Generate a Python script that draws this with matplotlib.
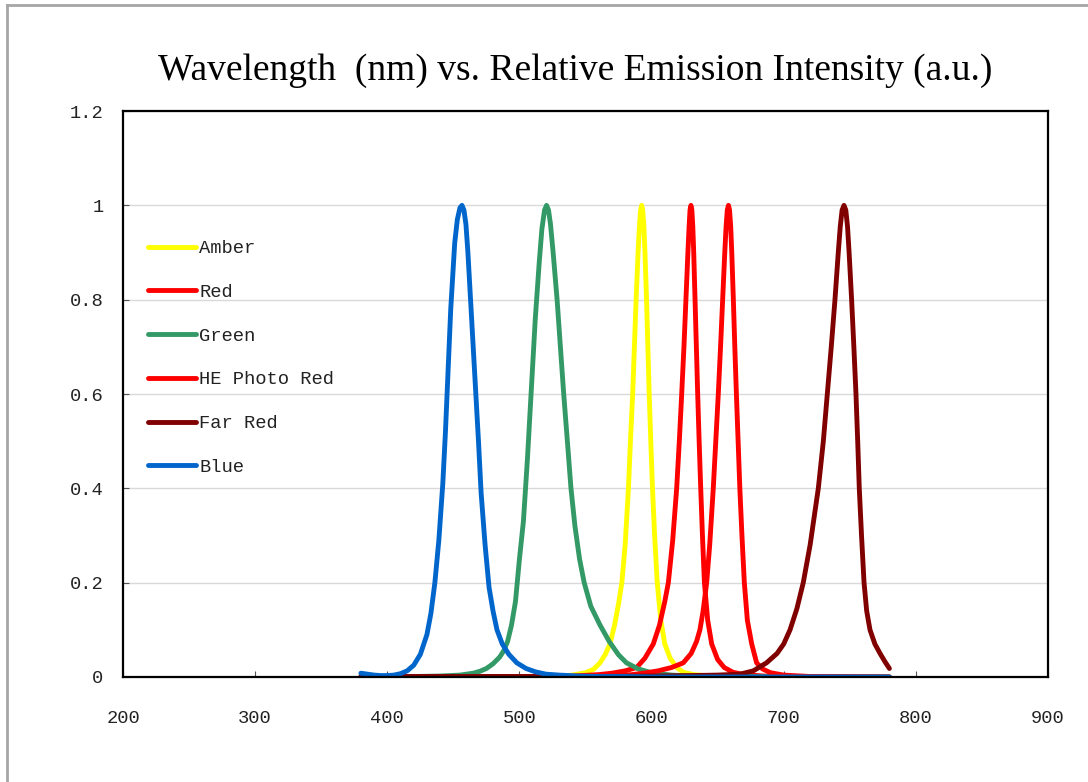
import matplotlib
matplotlib.use("Agg")
import matplotlib.pyplot as plt
from matplotlib.lines import Line2D

# ---------------------------------------------------
# Data (wavelength nm, relative intensity)
# ---------------------------------------------------

amber_wl = [380, 500, 530, 540, 550, 556, 561, 565, 568.5, 572, 575, 577.5, 580,
            582.5, 584, 585.7, 587, 588.3, 589.8, 590.8, 591.7, 592.5, 593.3, 594.2,
            595, 596.2, 597.2, 598.2, 599.4, 600.7, 602.3, 604.3, 607, 610, 614, 619,
            624, 632, 645, 660, 700, 780]
amber_val = [0, 0, 0.002, 0.004, 0.009, 0.016, 0.03, 0.048, 0.07, 0.11, 0.155, 0.2,
             0.28, 0.40, 0.50, 0.60, 0.70, 0.80, 0.90, 0.955, 0.99, 1.0, 0.99, 0.955,
             0.90, 0.80, 0.70, 0.60, 0.50, 0.40, 0.30, 0.20, 0.12, 0.07, 0.04, 0.02,
             0.01, 0.005, 0.002, 0.001, 0, 0]

red_wl = [380, 500, 540, 560, 570, 580, 588.7, 595, 601.3, 606, 610, 612.7, 616, 619,
          621, 622.8, 624.5, 626, 627.5, 628.4, 629.1, 629.8, 630.5, 631.2, 631.9,
          632.9, 633.9, 634.9, 636, 637.2, 638.5, 640, 642.5, 645.5, 650, 655, 661.6,
          670, 685, 700, 780]
red_val = [0, 0, 0.002, 0.005, 0.008, 0.013, 0.02, 0.04, 0.07, 0.11, 0.16, 0.20, 0.29,
           0.40, 0.50, 0.60, 0.70, 0.80, 0.90, 0.955, 0.99, 1.0, 0.99, 0.955, 0.90,
           0.80, 0.70, 0.60, 0.50, 0.40, 0.30, 0.20, 0.12, 0.07, 0.037, 0.02, 0.01,
           0.005, 0.002, 0.001, 0]

green_wl = [380, 420, 440, 455, 465, 470, 475, 480, 485, 488, 491, 494, 497, 500, 503,
            506, 509, 512, 515, 517, 519, 520.5, 522, 523.5, 525.5, 528.5, 531, 533.5,
            536, 539, 542, 545.5, 549, 554, 561, 568, 575, 581, 590, 600, 615, 630,
            660, 700, 780]
green_val = [0, 0.001, 0.002, 0.004, 0.008, 0.012, 0.018, 0.028, 0.042, 0.055, 0.075,
             0.11, 0.16, 0.25, 0.33, 0.46, 0.61, 0.76, 0.88, 0.95, 0.99, 1.0, 0.99,
             0.96, 0.90, 0.80, 0.70, 0.60, 0.51, 0.40, 0.32, 0.25, 0.20, 0.15, 0.11,
             0.075, 0.047, 0.03, 0.017, 0.009, 0.004, 0.002, 0.001, 0, 0]

he_red_wl = [380, 540, 570, 585, 594, 605, 615, 624, 630, 634, 636.6, 639, 641.7, 644,
             646.7, 648.6, 650.5, 652.2, 653.8, 655.4, 656.4, 657.3, 658.2, 659.0,
             659.9, 660.7, 661.9, 663, 664.2, 665.5, 666.8, 668.4, 670.2, 672.5, 675.8,
             679.5, 684, 690, 700, 720, 780]
he_red_val = [0, 0, 0.002, 0.005, 0.008, 0.013, 0.02, 0.03, 0.05, 0.075, 0.10, 0.14,
              0.20, 0.28, 0.40, 0.50, 0.60, 0.70, 0.80, 0.90, 0.955, 0.99, 1.0, 0.99,
              0.955, 0.90, 0.80, 0.70, 0.60, 0.50, 0.40, 0.30, 0.20, 0.12, 0.07, 0.03,
              0.017, 0.009, 0.004, 0.001, 0]

far_red_wl = [380, 400, 450, 500, 550, 600, 630, 650, 667, 677, 687, 695, 700, 704.8,
              710, 714.8, 720, 726.2, 730, 733, 736, 738.8, 741.3, 742.8, 744.2, 745.6,
              747, 748.3, 749.5, 751.4, 753.1, 754.7, 756, 757.2, 758.9, 760.8, 762.8,
              765.3, 769, 772.9, 776.5, 780]
far_red_val = [0.001, 0.001, 0.001, 0.001, 0.001, 0.002, 0.003, 0.004, 0.006, 0.013,
               0.03, 0.05, 0.07, 0.10, 0.145, 0.20, 0.28, 0.40, 0.50, 0.60, 0.70, 0.80,
               0.90, 0.955, 0.99, 1.0, 0.99, 0.955, 0.90, 0.80, 0.70, 0.60, 0.50, 0.40,
               0.30, 0.20, 0.14, 0.10, 0.07, 0.05, 0.033, 0.018]

blue_wl = [380, 385, 390, 395, 400, 405, 410, 415, 420, 425, 430, 433, 436, 439, 442,
           444, 446, 448, 451, 453, 455, 456.5, 458, 459.5, 461, 463, 465, 467, 469,
           471, 474, 477, 480, 483, 487, 492, 498, 505, 512, 520, 530, 545, 560, 580,
           600, 650, 700, 780]
blue_val = [0.008, 0.006, 0.004, 0.003, 0.003, 0.004, 0.007, 0.013, 0.025, 0.048, 0.09,
            0.135, 0.20, 0.29, 0.41, 0.52, 0.65, 0.78, 0.92, 0.97, 0.995, 1.0, 0.99,
            0.96, 0.90, 0.80, 0.70, 0.60, 0.50, 0.39, 0.28, 0.19, 0.14, 0.10, 0.07,
            0.048, 0.03, 0.018, 0.011, 0.006, 0.004, 0.002, 0.001, 0.001, 0, 0, 0, 0]

SERIES = [
    ("Amber", amber_wl, amber_val, "#FFFF00"),
    ("Red", red_wl, red_val, "#FF0000"),
    ("Green", green_wl, green_val, "#339966"),
    ("HE Photo Red", he_red_wl, he_red_val, "#FF0000"),
    ("Far Red", far_red_wl, far_red_val, "#800000"),
    ("Blue", blue_wl, blue_val, "#0066CC"),
]

X_TICKS = [200, 300, 400, 500, 600, 700, 800, 900]
Y_TICKS = [0, 0.2, 0.4, 0.6, 0.8, 1.0, 1.2]
Y_TICK_LABELS = ["0", "0.2", "0.4", "0.6", "0.8", "1", "1.2"]

TITLE = "Wavelength  (nm) vs. Relative Emission Intensity (a.u.)"
TICK_FONT = "Liberation Mono"


def main():
    fig = plt.figure(figsize=(10.88, 7.82), dpi=100)
    ax = fig.add_axes([0.1131, 0.1343, 0.8501, 0.7237])

    # gray frame, only top and left visible in the reference
    fig.add_artist(Line2D([0.0065, 1.0], [0.9936, 0.9936], transform=fig.transFigure,
                          color="#a6a6a6", linewidth=2))
    fig.add_artist(Line2D([0.0065, 0.0065], [0.0, 0.9936], transform=fig.transFigure,
                          color="#a6a6a6", linewidth=2))

    for name, wl, val, color in SERIES:
        ax.plot(wl, val, color=color, linewidth=3.5, label=name,
                solid_capstyle="round", solid_joinstyle="round")

    ax.set_xlim(200, 900)
    ax.set_ylim(0, 1.2)
    ax.set_xticks(X_TICKS)
    ax.set_yticks(Y_TICKS)
    ax.set_yticklabels(Y_TICK_LABELS)
    ax.yaxis.grid(True, color="#d9d9d9", linewidth=1)
    ax.set_axisbelow(True)

    for sp in ax.spines.values():
        sp.set_linewidth(1.6)
        sp.set_color("black")

    ax.tick_params(axis="both", direction="in", length=4, width=0.8, color="#555555")
    ax.tick_params(axis="x", pad=24)
    ax.tick_params(axis="y", pad=14)
    for lab in ax.get_xticklabels() + ax.get_yticklabels():
        lab.set_fontfamily(TICK_FONT)
        lab.set_fontsize(13.5)
        lab.set_color("#222222")

    leg = ax.legend(loc="upper left", bbox_to_anchor=(0.027, 0.772), frameon=False,
                    borderaxespad=0, borderpad=0, handlelength=2.55, handletextpad=0.17,
                    labelspacing=1.42, prop={"family": TICK_FONT, "size": 13.5})
    for t in leg.get_texts():
        t.set_color("#222222")

    fig.text(0.5285, 0.909, TITLE, ha="center", va="center", fontsize=27,
             family="Liberation Serif")

    fig.savefig("out.png", dpi=100)


if __name__ == "__main__":
    main()
